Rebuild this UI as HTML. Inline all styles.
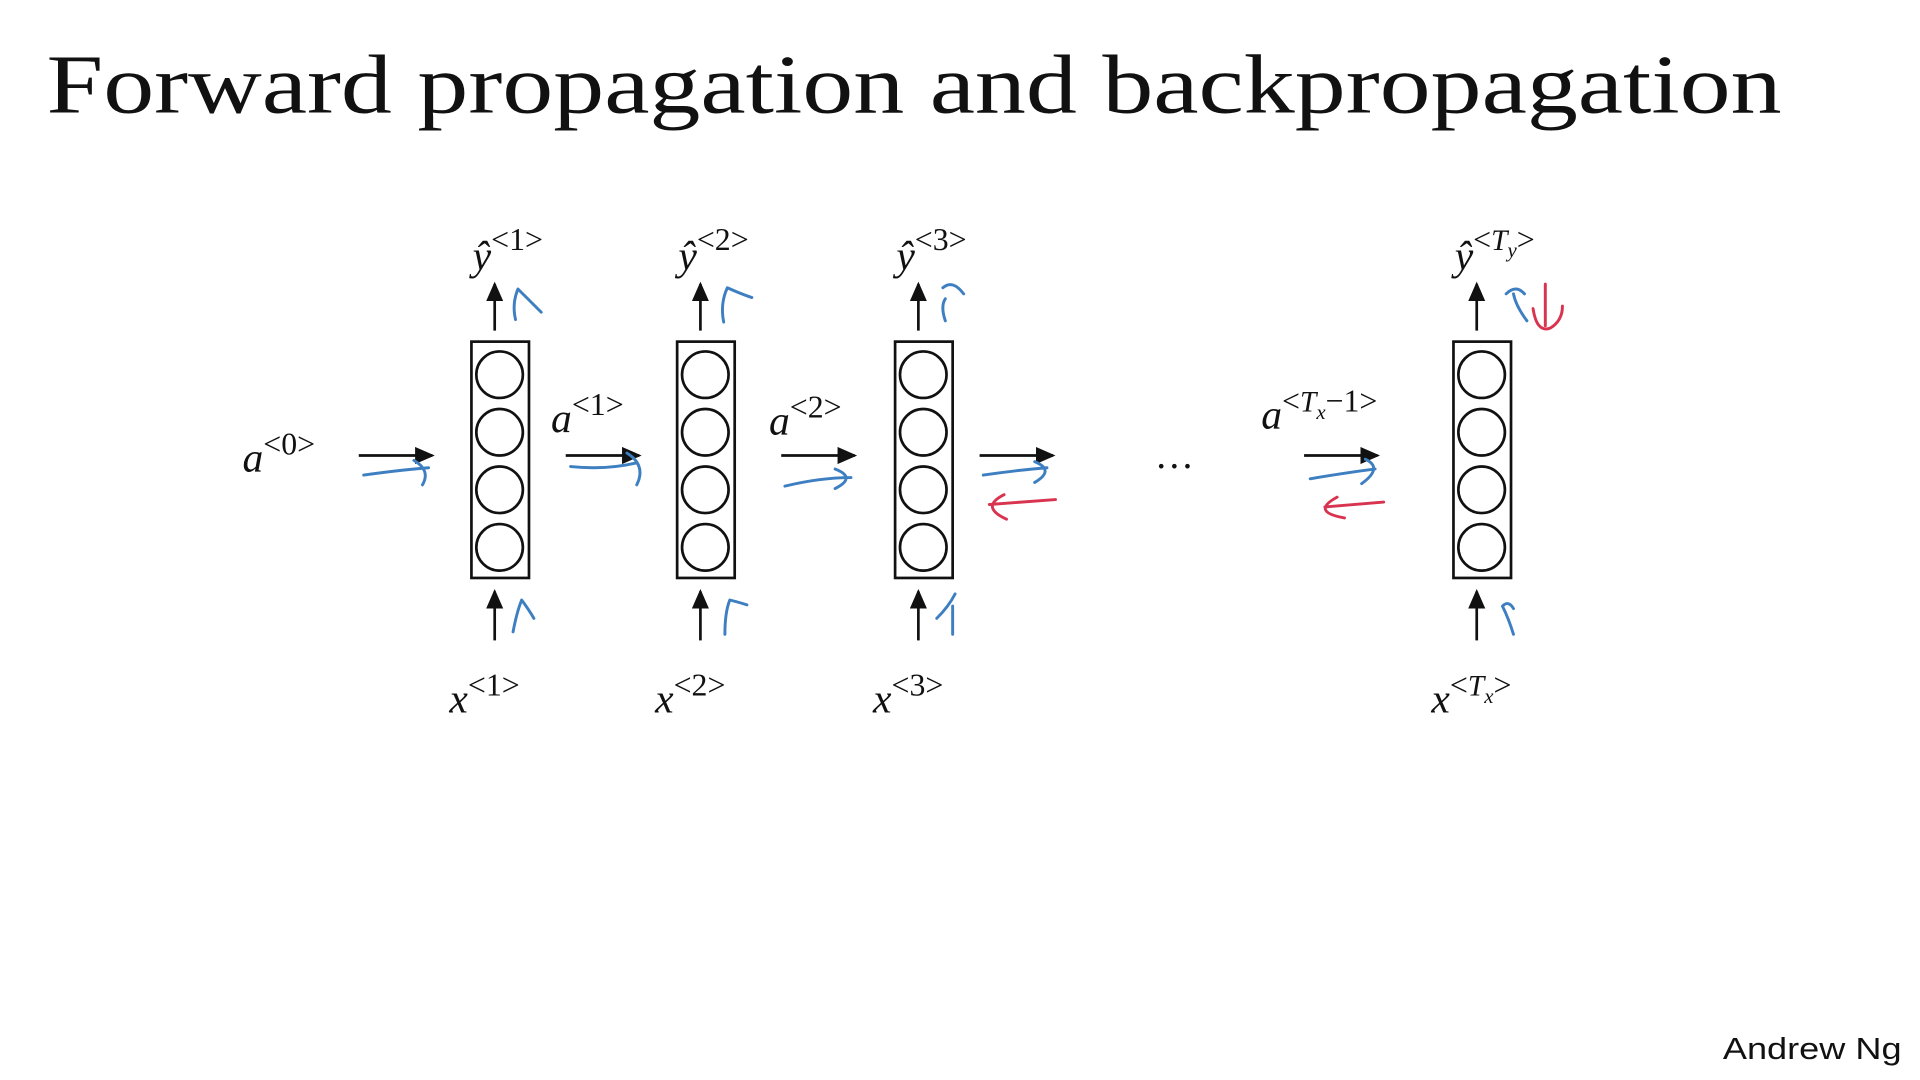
<!DOCTYPE html>
<html><head><meta charset="utf-8"><style>
html,body{margin:0;padding:0;background:#fff;width:1920px;height:1080px;overflow:hidden}
svg{display:block}
.m{font-family:"Liberation Serif",serif;font-style:italic;fill:#111}
.s{font-family:"Liberation Serif",serif;font-style:normal;fill:#111}
.b{fill:none;stroke:#3d7fc1;stroke-width:2.4;stroke-linecap:round;stroke-linejoin:round}
.r{fill:none;stroke:#d8344f;stroke-width:2.4;stroke-linecap:round;stroke-linejoin:round}
</style></head><body>
<svg width="1920" height="1080" viewBox="0 0 1568 882" xmlns="http://www.w3.org/2000/svg">
<defs>
<marker id="ah2" markerWidth="16" markerHeight="14" refX="14" refY="7" orient="auto" markerUnits="userSpaceOnUse"><path d="M0,0 L16,7 L0,14 z" fill="#111"/></marker></defs>
<text x="38" y="92" font-family="Liberation Serif,serif" font-size="68" fill="#111" textLength="1417" lengthAdjust="spacingAndGlyphs">Forward propagation and backpropagation</text>
<g id="cells"></g>
<g stroke="#111" stroke-width="2.2">
<line x1="293" y1="372" x2="353" y2="372" marker-end="url(#ah2)"/>
<line x1="462" y1="372" x2="522" y2="372" marker-end="url(#ah2)"/>
<line x1="638" y1="372" x2="698" y2="372" marker-end="url(#ah2)"/>
<line x1="800" y1="372" x2="860" y2="372" marker-end="url(#ah2)"/>
<line x1="1065" y1="372" x2="1125" y2="372" marker-end="url(#ah2)"/>
</g>
<g>
<text class="m" x="198" y="385" font-size="34">a<tspan class="s" font-size="26" dy="-14">&lt;0&gt;</tspan></text>
<text class="m" x="450" y="353" font-size="34">a<tspan class="s" font-size="26" dy="-14">&lt;1&gt;</tspan></text>
<text class="m" x="628" y="355" font-size="34">a<tspan class="s" font-size="26" dy="-14">&lt;2&gt;</tspan></text>
<text class="m" x="1030" y="350" font-size="34">a<tspan class="s" font-size="26" dy="-14">&lt;</tspan><tspan font-size="24">T</tspan><tspan font-size="17" dy="6">x</tspan><tspan class="s" font-size="26" dy="-6">−1&gt;</tspan></text>
<text class="s" x="943" y="382" font-size="32">…</text>
</g>
<g>
<path class="b" d="M297,388 Q325,384 350,382 M338,376 Q352,384 345,396"/>
<path class="b" d="M466,381 Q495,384 520,378 M512,370 Q528,380 520,396"/>
<path class="b" d="M641,397 Q670,390 695,390 M682,383 Q700,390 682,399"/>
<path class="b" d="M803,388 Q830,384 855,382 M845,377 Q862,384 845,394"/>
<path class="b" d="M1070,391 Q1100,386 1123,383 M1115,375 Q1130,382 1112,395"/>
<path class="b" d="M421,261 Q418,248 423,236 Q432,245 442,255"/>
<path class="b" d="M591,263 Q588,248 594,235 Q605,240 614,243"/>
<path class="b" d="M772,262 Q768,250 772,244 M770,235 Q778,228 787,240"/>
<path class="b" d="M1247,262 Q1238,250 1236,240 M1230,240 Q1238,232 1245,240"/>
<path class="b" d="M419,516 Q422,500 426,490 Q432,498 436,505"/>
<path class="b" d="M592,518 Q592,500 596,490 Q604,492 610,494"/>
<path class="b" d="M765,505 Q775,495 780,485 M778,495 L778,518"/>
<path class="b" d="M1236,518 Q1232,505 1227,495 Q1232,490 1236,497"/>
</g>
<g>
<path class="r" d="M862,408 Q835,410 808,412 M820,404 Q800,414 822,424"/>
<path class="r" d="M1130,410 Q1105,412 1082,414 M1092,406 Q1070,418 1098,423"/>
<path class="r" d="M1262,232 L1262,266 M1252,252 Q1255,272 1266,268 Q1276,262 1276,250"/>
</g>
<text x="1407" y="865" font-family="Liberation Sans,sans-serif" font-size="25" fill="#111" textLength="146" lengthAdjust="spacingAndGlyphs">Andrew Ng</text>
</svg>
<script>
const cellCenters=[408,576,754,1210];
const yLabels=["1","2","3","Ty"];
const xLabels=["1","2","3","Tx"];
const NS="http://www.w3.org/2000/svg";
const g=document.getElementById('cells');
function mk(t,a,p){const e=document.createElementNS(NS,t);for(const k in a)e.setAttribute(k,a[k]);(p||g).appendChild(e);return e;}
cellCenters.forEach((cx,i)=>{
 const grp=mk('g',{});
 
 
 mk('rect',{x:cx-23,y:279,width:47,height:193,fill:'none',stroke:'#111','stroke-width':2.2},grp);
 [306,353,400,447].forEach(cy=>mk('circle',{cx:cx,cy:cy,r:19,fill:'none',stroke:'#111','stroke-width':2.2},grp));
 mk('line',{x1:cx-4,y1:270,x2:cx-4,y2:232,stroke:'#111','stroke-width':2.2,'marker-end':'url(#ah2)'},grp);
 mk('line',{x1:cx-4,y1:523,x2:cx-4,y2:483,stroke:'#111','stroke-width':2.2,'marker-end':'url(#ah2)'},grp);
 const yl=mk('text',{class:'m',x:cx-22,y:220,'font-size':34},grp);
 
 
 const lab=yLabels[i];
 yl.innerHTML='ŷ<tspan class="s" font-size="26" dy="-16">&lt;</tspan>'+(lab.length>1?'<tspan font-size="24">T</tspan><tspan font-size="17" dy="6">y</tspan><tspan class="s" font-size="26" dy="-6">&gt;</tspan>':'<tspan class="s" font-size="26">'+lab+'&gt;</tspan>');
 const xl=mk('text',{class:'m',x:cx-41,y:582,'font-size':34},grp);
 
 
 const lx=xLabels[i];
 xl.innerHTML='x<tspan class="s" font-size="26" dy="-14">&lt;</tspan>'+(lx.length>1?'<tspan font-size="24">T</tspan><tspan font-size="17" dy="6">x</tspan><tspan class="s" font-size="26" dy="-6">&gt;</tspan>':'<tspan class="s" font-size="26">'+lx+'&gt;</tspan>');
});
</script>
</body></html>
